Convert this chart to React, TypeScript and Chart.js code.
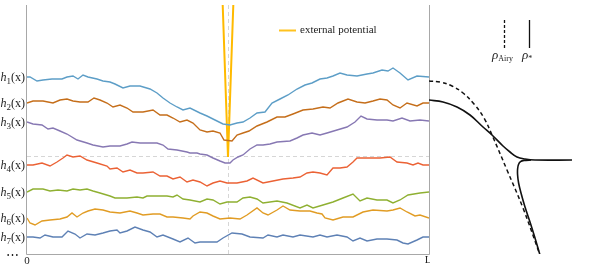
import React, { useEffect, useRef } from 'react';
import { Chart, registerables } from 'chart.js';
Chart.register(...registerables);

type P = [number, number];

const SERIF = '"Liberation Serif", "DejaVu Serif", serif';
const L = 402;
const Y_MAX = 249;

// height profiles h1..h7 : [position, height]
const h1: P[] = [[0,177],[3,177],[10,173],[16,174],[25,175],[35,175],[40,177],[46,178],[51,175],[56,179],[61,177],[70,175],[76,173],[83,172],[88,170],[96,166],[103,168],[113,168],[123,165],[130,161],[136,156],[143,151],[150,147],[156,144],[163,146],[173,141],[180,138],[188,134],[196,130],[203,129],[210,131],[216,132],[223,136],[230,141],[238,142],[245,151],[253,155],[261,159],[270,165],[278,169],[285,171],[293,175],[300,176],[306,178],[313,181],[320,179],[330,178],[340,180],[346,181],[355,184],[361,183],[366,186],[373,181],[381,174],[390,178],[402,177]];
const h2: P[] = [[0,151],[6,153],[16,153],[26,151],[33,154],[40,155],[46,153],[53,152],[61,152],[67,156],[73,154],[80,151],[86,147],[93,149],[100,146],[106,142],[116,142],[126,144],[133,139],[140,139],[146,136],[153,132],[160,134],[166,131],[173,124],[180,122],[186,123],[193,121],[197,114],[205,113],[210,119],[216,121],[222,123],[230,128],[240,132],[250,137],[258,137],[266,140],[276,144],[286,145],[296,147],[303,146],[311,151],[321,155],[330,152],[338,151],[346,153],[353,155],[360,154],[366,149],[373,146],[380,151],[390,148],[396,151],[402,151]];
const h3: P[] = [[0,132],[6,130],[15,129],[21,125],[26,126],[33,123],[40,120],[50,114],[60,111],[66,109],[76,107],[83,108],[93,108],[100,110],[105,112],[113,111],[123,111],[130,111],[136,109],[141,105],[150,104],[160,102],[163,101],[170,101],[173,100],[180,99],[186,96],[193,93],[198,91],[203,91],[206,94],[211,97],[216,99],[223,105],[230,109],[236,109],[243,110],[250,112],[263,113],[270,116],[276,119],[285,121],[293,119],[300,121],[310,124],[320,127],[328,132],[334,138],[340,135],[350,134],[360,134],[366,133],[375,136],[383,133],[393,134],[402,133]];
const h4: P[] = [[0,89],[6,89],[15,91],[23,88],[30,92],[36,96],[40,99],[46,97],[53,98],[60,94],[70,91],[80,88],[83,85],[90,86],[96,82],[103,84],[110,81],[116,81],[126,82],[133,78],[140,78],[146,75],[153,77],[160,72],[166,74],[173,72],[180,68],[186,71],[193,73],[200,71],[210,71],[220,73],[226,76],[236,71],[246,73],[256,75],[266,76],[273,77],[280,81],[286,82],[293,81],[300,79],[306,86],[313,86],[320,87],[326,92],[330,96],[340,96],[353,96],[363,97],[370,92],[380,91],[386,89],[391,91],[396,89],[402,89]];
const h5: P[] = [[0,62],[6,65],[16,65],[23,63],[31,64],[40,63],[46,65],[53,64],[60,65],[66,63],[73,61],[83,58],[88,56],[100,56],[110,57],[116,56],[120,58],[130,58],[140,58],[146,57],[150,59],[156,55],[163,54],[173,52],[180,55],[186,54],[193,50],[200,52],[210,52],[216,56],[223,57],[230,55],[236,51],[250,53],[260,51],[273,46],[280,49],[286,46],[296,49],[306,52],[316,56],[326,60],[333,53],[340,56],[350,54],[360,54],[366,51],[373,54],[381,59],[393,61],[402,62]];
const h6: P[] = [[0,36],[3,31],[8,29],[15,33],[23,34],[33,35],[40,37],[45,41],[50,37],[56,41],[61,43],[68,45],[76,44],[83,42],[93,41],[103,43],[110,41],[116,39],[126,40],[133,40],[140,37],[146,37],[156,36],[163,35],[166,38],[173,42],[180,41],[186,38],[193,35],[203,36],[213,35],[220,39],[230,46],[236,41],[241,39],[250,44],[256,48],[263,44],[273,43],[283,43],[290,41],[295,40],[298,36],[306,34],[316,37],[326,37],[336,42],[346,44],[360,43],[366,44],[373,46],[380,42],[388,38],[393,39],[402,36]];
const h7: P[] = [[0,17],[6,17],[13,16],[18,19],[26,17],[35,17],[41,23],[48,20],[53,16],[60,20],[68,19],[76,21],[83,23],[90,24],[93,21],[100,23],[108,27],[116,24],[123,22],[130,17],[136,19],[146,15],[153,12],[161,16],[168,11],[173,12],[180,12],[190,12],[196,16],[205,21],[215,20],[223,17],[236,16],[241,19],[250,17],[256,19],[266,17],[273,19],[286,17],[293,19],[300,17],[310,19],[320,17],[326,13],[333,16],[340,13],[350,15],[360,15],[370,14],[376,11],[381,10],[390,14],[396,17],[402,17]];

const profiles = [h1, h2, h3, h4, h5, h6, h7];
const profileIndex = ['1', '2', '3', '4', '5', '6', '7'];
const profileColors = ['#5D9EC7', '#C56E1A', '#8778B3', '#EB6235', '#8FB032', '#E19C24', '#5E81B5'];

// external potential (V shape)
const potential: P[] = [[195, 269], [201, 97], [207, 269]];
const centerX = 201;
const minLevel = 98;

// right panel densities : [density, height]
const DENS_MAX = 146;
const rhoAiry: P[] = [[0,173],[11,172],[23,168],[34,161],[45,150],[55,136],[63,119],[78,84],[94,46],[111,-1]];
const rhoStarUpper: P[] = [[0,154],[14,152],[28,147],[41,139],[54,127],[63,119],[74,108],[81,102],[88,97],[96,95],[106,94],[143,94]];
const rhoStarLower: P[] = [[102,94],[95,93.6],[91.5,92.3],[89.5,89.5],[88.6,85],[88.6,79],[89.6,71],[92,61],[96,47],[101,32],[106,16],[111,-1]];

const toXY = (a: P[]) => a.map(([x, y]) => ({ x, y }));

function drawHLabel(ctx: CanvasRenderingContext2D, sub: string, xRight: number, y: number) {
  const fMain = `italic 12px ${SERIF}`;
  const fSub = `9px ${SERIF}`;
  const fPar = `12px ${SERIF}`;
  ctx.font = fMain; const wH = ctx.measureText('h').width;
  ctx.font = fSub; const wS = ctx.measureText(sub).width;
  ctx.font = fPar; const wP = ctx.measureText('(x)').width;
  let x = xRight - (wH + wS + wP);
  ctx.textBaseline = 'alphabetic';
  ctx.textAlign = 'left';
  ctx.font = fMain; ctx.fillText('h', x, y + 4); x += wH;
  ctx.font = fSub; ctx.fillText(sub, x, y + 7); x += wS;
  ctx.font = fPar; ctx.fillText('(x)', x, y + 4);
}

const leftDecor = {
  id: 'leftDecor',
  beforeDatasetsDraw(chart: any) {
    const { ctx, chartArea: a, scales } = chart;
    const xs = scales.x, ys = scales.y;
    ctx.save();
    ctx.strokeStyle = '#d6d6d6';
    ctx.lineWidth = 1;
    ctx.setLineDash([4, 3]);
    const cx = Math.round(xs.getPixelForValue(centerX)) + 0.5;
    ctx.beginPath(); ctx.moveTo(cx, a.top); ctx.lineTo(cx, a.bottom); ctx.stroke();
    const hy = Math.round(ys.getPixelForValue(minLevel)) + 0.5;
    ctx.beginPath(); ctx.moveTo(a.left, hy); ctx.lineTo(a.right, hy); ctx.stroke();
    ctx.setLineDash([]);
    ctx.strokeStyle = '#a8a8a8';
    ctx.beginPath();
    ctx.moveTo(a.left - 0.5, a.top);
    ctx.lineTo(a.left - 0.5, a.bottom + 0.5);
    ctx.lineTo(a.right + 0.5, a.bottom + 0.5);
    ctx.lineTo(a.right + 0.5, a.top);
    ctx.stroke();
    ctx.restore();
  },
  afterDatasetsDraw(chart: any) {
    const { ctx, chartArea: a, scales } = chart;
    const xs = scales.x, ys = scales.y;
    ctx.save();
    ctx.fillStyle = '#222';
    // tick labels
    ctx.font = `11px ${SERIF}`;
    ctx.textAlign = 'center';
    ctx.textBaseline = 'top';
    ctx.fillText('0', xs.getPixelForValue(0), a.bottom + 2);
    ctx.fillText('L', xs.getPixelForValue(L) - 1, a.bottom + 1);
    // profile labels
    profiles.forEach((p, i) => {
      drawHLabel(ctx, profileIndex[i], a.left - 2, ys.getPixelForValue(p[0][1]));
    });
    ctx.font = `13px ${SERIF}`;
    ctx.textAlign = 'center';
    ctx.textBaseline = 'middle';
    ctx.fillText('⋯', 12, a.bottom + 2);
    // legend
    ctx.strokeStyle = '#FFC21F';
    ctx.lineWidth = 2;
    ctx.beginPath(); ctx.moveTo(279, 30.5); ctx.lineTo(296, 30.5); ctx.stroke();
    ctx.font = `11px ${SERIF}`;
    ctx.textAlign = 'left';
    ctx.textBaseline = 'middle';
    ctx.fillText('external potential', 300, 30);
    ctx.restore();
  },
};

const rightDecor = {
  id: 'rightDecor',
  afterDatasetsDraw(chart: any) {
    const { ctx, chartArea: a } = chart;
    ctx.save();
    ctx.strokeStyle = '#111';
    ctx.lineWidth = 1.3;
    const xd = a.left + 75.5, xs = a.left + 100.5;
    ctx.setLineDash([3, 2]);
    ctx.beginPath(); ctx.moveTo(xd, 20); ctx.lineTo(xd, 48); ctx.stroke();
    ctx.setLineDash([]);
    ctx.beginPath(); ctx.moveTo(xs, 20); ctx.lineTo(xs, 48); ctx.stroke();
    ctx.fillStyle = '#222';
    ctx.textBaseline = 'alphabetic';
    ctx.textAlign = 'left';
    ctx.font = `italic 13px ${SERIF}`;
    const wr = ctx.measureText('ρ').width;
    ctx.fillText('ρ', a.left + 63, 59);
    ctx.font = `8px ${SERIF}`;
    ctx.fillText('Airy', a.left + 63 + wr, 61);
    ctx.font = `italic 13px ${SERIF}`;
    ctx.fillText('ρ', a.left + 93, 59);
    ctx.font = `8px ${SERIF}`;
    ctx.fillText('*', a.left + 93 + wr, 61);
    ctx.restore();
  },
};

export default function App() {
  const leftRef = useRef<HTMLCanvasElement>(null);
  const rightRef = useRef<HTMLCanvasElement>(null);

  useEffect(() => {
    const leftDatasets: any[] = profiles.map((p, i) => ({
      label: 'h' + profileIndex[i],
      data: toXY(p),
      borderColor: profileColors[i],
      borderWidth: 1.4,
      showLine: true,
      pointRadius: 0,
      tension: 0,
    }));
    leftDatasets.push({
      label: 'external potential',
      data: toXY(potential),
      borderColor: '#FFBA00',
      borderWidth: 2,
      showLine: true,
      pointRadius: 0,
      tension: 0,
    });

    const left = new Chart(leftRef.current!, {
      type: 'scatter',
      data: { datasets: leftDatasets },
      options: {
        animation: false,
        responsive: false,
        devicePixelRatio: 1,
        layout: { padding: { left: 27, right: 1, top: 5, bottom: 19 } },
        plugins: { legend: { display: false }, tooltip: { enabled: false } },
        scales: {
          x: { type: 'linear', min: 0, max: L, display: false },
          y: { type: 'linear', min: 0, max: Y_MAX, display: false },
        },
      },
      plugins: [leftDecor],
    });

    const right = new Chart(rightRef.current!, {
      type: 'scatter',
      data: {
        datasets: [
          { label: 'ρAiry', data: toXY(rhoAiry), borderColor: '#111', borderWidth: 1.5, borderDash: [4, 3], showLine: true, pointRadius: 0, tension: 0.4 },
          { label: 'ρ*', data: toXY(rhoStarUpper), borderColor: '#111', borderWidth: 1.6, showLine: true, pointRadius: 0, tension: 0.4 },
          { label: 'ρ* lower', data: toXY(rhoStarLower), borderColor: '#111', borderWidth: 1.6, showLine: true, pointRadius: 0, tension: 0.25 },
        ],
      },
      options: {
        animation: false,
        responsive: false,
        devicePixelRatio: 1,
        layout: { padding: { left: 0, right: 22, top: 5, bottom: 19 } },
        plugins: { legend: { display: false }, tooltip: { enabled: false } },
        scales: {
          x: { type: 'linear', min: 0, max: DENS_MAX, display: false },
          y: { type: 'linear', min: 0, max: Y_MAX, display: false },
        },
      },
      plugins: [rightDecor],
    });

    return () => { left.destroy(); right.destroy(); };
  }, []);

  return (
    <div style={{ position: 'fixed', left: 0, top: 0, width: 597, height: 273, background: '#fff' }}>
      <canvas ref={leftRef} width={430} height={273} style={{ position: 'absolute', left: 0, top: 0 }} />
      <canvas ref={rightRef} width={168} height={273} style={{ position: 'absolute', left: 429, top: 0 }} />
    </div>
  );
}
